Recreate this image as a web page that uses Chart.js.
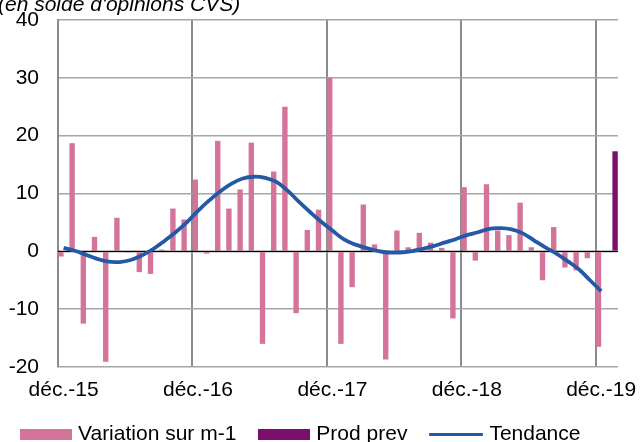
<!DOCTYPE html>
<html>
<head>
<meta charset="utf-8">
<script src="https://cdn.jsdelivr.net/npm/chart.js@4/dist/chart.umd.min.js"></script>
<style>
  html, body { margin: 0; padding: 0; background: #fff; }
  #wrap { position: relative; width: 640px; height: 442px; overflow: hidden; }
  #note { position: absolute; left: -2px; top: -7px; font: italic 21px/21px "Liberation Sans", Arial, sans-serif; color: #000; white-space: nowrap; }
  canvas { position: absolute; left: 0; top: 0; }
  #legend { position: absolute; left: 20px; top: 422px; display: flex; align-items: flex-start;
            font: 21px/21px "Liberation Sans", Arial, sans-serif; color: #000; white-space: nowrap; }
  .item { display: flex; align-items: flex-start; margin-right: 22px; }
  .sw { width: 52px; height: 11px; margin-top: 7px; margin-right: 6px; }
  .ln { width: 54px; height: 3px; margin-top: 11px; margin-right: 6px; border-radius: 1px; }
</style>
</head>
<body>
<div id="wrap">
  <canvas id="c" width="640" height="442"></canvas>
  <div id="note">(en solde d'opinions CVS)</div>
  <div id="legend"></div>
</div>
<script>
// Categories (monthly, Dec-15 .. Jan-20)
const months = [
  'déc.-15',
  'janv.-16','févr.-16','mars-16','avr.-16','mai-16','juin-16','juil.-16','août-16','sept.-16','oct.-16','nov.-16','déc.-16',
  'janv.-17','févr.-17','mars-17','avr.-17','mai-17','juin-17','juil.-17','août-17','sept.-17','oct.-17','nov.-17','déc.-17',
  'janv.-18','févr.-18','mars-18','avr.-18','mai-18','juin-18','juil.-18','août-18','sept.-18','oct.-18','nov.-18','déc.-18',
  'janv.-19','févr.-19','mars-19','avr.-19','mai-19','juin-19','juil.-19','août-19','sept.-19','oct.-19','nov.-19','déc.-19',
  'janv.-20'
];
// Shown tick labels
const tickLabels = ['déc.-15','déc.-16','déc.-17','déc.-18','déc.-19'];

// Variation sur m-1
const variation = [
  -0.9,
  18.7, -12.5, 2.5, -19.1, 5.8, -0.2, -3.6, -3.9, 0.3, 7.4, 5.5, 12.4,
  -0.4, 19.1, 7.4, 10.7, 18.8, -16.0, 13.8, 25.0, -10.7, 3.7, 7.2, 30.0,
  -16.0, -6.2, 8.1, 1.2, -18.7, 3.6, 0.7, 3.2, 1.5, 0.6, -11.6, 11.1,
  -1.6, 11.6, 3.6, 2.8, 8.4, 0.7, -5.0, 4.2, -2.8, -3.3, -1.2, -16.5,
  null
];
// Prod prev (forecast)
const prodPrev = [
  null,
  null, null, null, null, null, null, null, null, null, null, null, null,
  null, null, null, null, null, null, null, null, null, null, null, null,
  null, null, null, null, null, null, null, null, null, null, null, null,
  null, null, null, null, null, null, null, null, null, null, null, null,
  17.3
];
// Tendance
const tendance = [
  0.6,
  0.1, -0.6, -1.3, -1.8, -1.85, -1.5, -0.7, 0.4, 1.8, 3.3, 5.0, 7.0,
  8.8, 10.4, 11.7, 12.6, 12.9, 12.7, 12.0, 10.5, 8.6, 6.8, 5.1, 3.6,
  2.1, 1.2, 0.6, 0.1, -0.2, -0.2, 0.0, 0.4, 0.9, 1.5, 2.1, 2.8,
  3.3, 3.9, 4.0, 3.8, 3.1, 1.9, 0.7, -0.4, -1.7, -3.1, -5.0, -6.9,
  null
];
const yTicks = [-20, -10, 0, 10, 20, 30, 40];

const PINK = '#d4749a';
const PURPLE = '#7a0f6e';
const BLUE = '#2459a6';
const FONT = { family: '"Liberation Sans", Arial, sans-serif', size: 21 };

const zeroLine = {
  id: 'zeroLine',
  beforeDatasetDraw(chart, args) {
    if (args.meta.type !== 'line') return;
    const y = chart.scales.y.getPixelForValue(0);
    const { left, right } = chart.chartArea;
    const ctx = chart.ctx;
    ctx.save();
    ctx.strokeStyle = '#000';
    ctx.lineWidth = 1.2;
    ctx.beginPath();
    ctx.moveTo(left, y);
    ctx.lineTo(right, y);
    ctx.stroke();
    ctx.restore();
  }
};

const datasets = [
  { type: 'bar', label: 'Variation sur m-1', data: variation, backgroundColor: PINK, order: 1,
    barPercentage: 1.0, categoryPercentage: 0.96 },
  { type: 'bar', label: 'Prod prev', data: prodPrev, backgroundColor: PURPLE, order: 2,
    barPercentage: 1.0, categoryPercentage: 0.96 },
  { type: 'line', label: 'Tendance', data: tendance, borderColor: BLUE, backgroundColor: BLUE,
    borderWidth: 3.8, pointRadius: 0, tension: 0.4, order: 0, spanGaps: false }
];

new Chart(document.getElementById('c'), {
  data: { labels: months, datasets: datasets },
  options: {
    responsive: false,
    animation: false,
    layout: { padding: { top: 20, right: 22, left: 0, bottom: 40.5 } },
    plugins: {
      tooltip: { enabled: false },
      legend: { display: false }
    },
    scales: {
      x: {
        offset: true,
        afterFit: scale => { scale.height = 34.5; },
        grid: {
          offset: true,
          drawTicks: false,
          lineWidth: 2,
          color: ctx => (ctx.index % 12 === 0 ? '#8c8c8c' : 'rgba(0,0,0,0)')
        },
        border: { display: false },
        ticks: {
          autoSkip: false,
          maxRotation: 0,
          minRotation: 0,
          padding: 11,
          color: '#000',
          font: FONT,
          callback: function (v, i) {
            const lab = months[i];
            return tickLabels.includes(lab) ? lab : '';
          }
        }
      },
      y: {
        min: -20,
        max: 40,
        afterBuildTicks: scale => { scale.ticks = yTicks.map(v => ({ value: v })); },
        afterFit: scale => { scale.width = 58; scale.paddingTop = 0; scale.paddingBottom = 0; },
        grid: { drawTicks: false, color: '#a6a6a6', lineWidth: 1.5 },
        border: { display: true, color: '#8c8c8c', width: 2 },
        ticks: { padding: 19, color: '#000', font: FONT }
      }
    }
  },
  plugins: [zeroLine]
});

// HTML legend built from the datasets
const legend = document.getElementById('legend');
datasets.forEach(ds => {
  const item = document.createElement('div');
  item.className = 'item';
  const sw = document.createElement('span');
  if (ds.type === 'line') { sw.className = 'ln'; sw.style.background = ds.borderColor; }
  else { sw.className = 'sw'; sw.style.background = ds.backgroundColor; }
  const tx = document.createElement('span');
  tx.textContent = ds.label;
  item.appendChild(sw);
  item.appendChild(tx);
  legend.appendChild(item);
});
</script>
</body>
</html>
